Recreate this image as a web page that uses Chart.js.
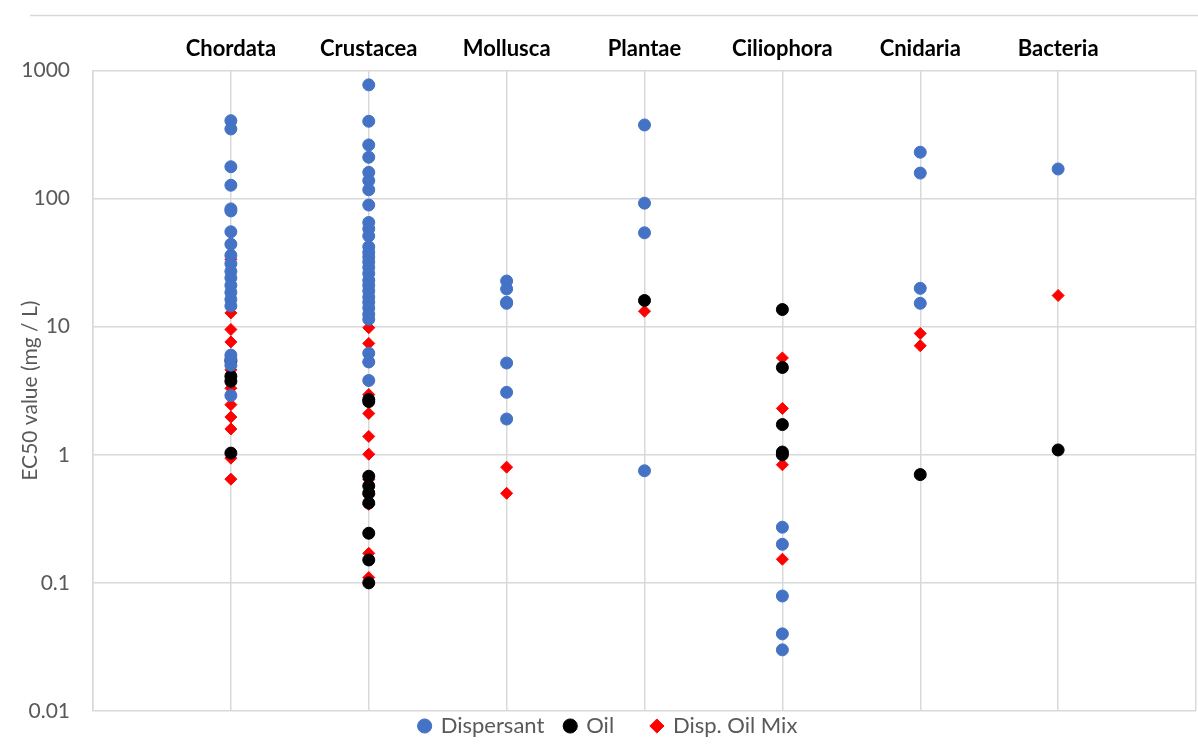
<!DOCTYPE html>
<html>
<head>
<meta charset="utf-8">
<script src="https://cdn.jsdelivr.net/npm/chart.js@4.4.1/dist/chart.umd.min.js"></script>
<style>
  html, body { margin: 0; padding: 0; background: #fff; }
  #wrap { width: 1198px; height: 754px; position: relative; }
</style>
</head>
<body>
<div id="wrap"><canvas id="myChart" width="1198" height="754"></canvas></div>
<script>
// phylum groups along the top
const categories = ['Chordata', 'Crustacea', 'Mollusca', 'Plantae', 'Ciliophora', 'Cnidaria', 'Bacteria'];
const yTicks = [0.01, 0.1, 1, 10, 100, 1000];
const yTitle = 'EC50 value (mg / L)';

// EC50 values (mg/L), one list per category
const dispersant = [
    [405, 349, 177, 127, 83, 80, 55, 44, 36, 31, 27, 24, 21, 18.5, 16.3, 14.5, 6.0, 5.6, 5.0, 2.9],
    [771, 401, 262, 210, 160, 138, 117, 89, 65, 58, 51, 42, 38, 35, 32, 29, 26, 23, 21, 19, 17, 15.5, 14, 12.5, 11.4, 6.2, 5.3, 3.8],
    [22.7, 19.7, 15.5, 15.2, 5.2, 3.07, 1.9],
    [375, 92, 54, 0.75],
    [0.272, 0.2, 0.079, 0.04, 0.03],
    [230, 158, 19.9, 15.2],
    [170]
];
const oil = [
    [5.4, 4.1, 3.75, 1.03],
    [2.7, 2.6, 0.68, 0.57, 0.5, 0.42, 0.244, 0.151, 0.1],
    [],
    [16],
    [13.6, 4.8, 1.72, 1.05, 1.0],
    [0.7],
    [1.09]
];
const mix = [
    [33.6, 12.8, 9.5, 7.6, 4.6, 3.3, 2.46, 1.97, 1.59, 0.94, 0.645],
    [9.8, 7.4, 5.3, 2.95, 2.1, 1.39, 1.01, 0.64, 0.52, 0.49, 0.41, 0.17, 0.11],
    [0.8, 0.5],
    [13.2],
    [5.7, 2.3, 1.03, 0.835, 0.153],
    [8.85, 7.1],
    [17.5]
];

function toPoints(groups) {
    const pts = [];
    groups.forEach((vals, i) => vals.forEach(v => pts.push({ x: i + 1, y: v })));
    return pts;
}

// top frame line and the rotated y title (drawn by hand so it can sit over the tick column)
const extras = {
    id: 'extras',
    beforeDraw(chart) {
        const c = chart.ctx;
        c.save();
        c.strokeStyle = '#d9d9d9';
        c.lineWidth = 1.5;
        c.beginPath();
        c.moveTo(30, 15.5);
        c.lineTo(1198, 15.5);
        c.stroke();
        c.restore();
    },
    afterDraw(chart) {
        const c = chart.ctx;
        const a = chart.chartArea;
        c.save();
        c.translate(30, (a.top + a.bottom) / 2);
        c.rotate(-Math.PI / 2);
        c.fillStyle = '#595959';
        c.font = '21px Lato, "Open Sans", sans-serif';
        c.textAlign = 'center';
        c.textBaseline = 'middle';
        c.fillText(yTitle, 0, 0);
        c.restore();
    }
};

// extra spaces to widen the gaps between legend entries
const legendGaps = ['   ', '      ', ''];

const ctx = document.getElementById('myChart').getContext('2d');
const myChart = new Chart(ctx, {
    type: 'scatter',
    data: {
        datasets: [{
            label: 'Dispersant',
            data: toPoints(dispersant),
            backgroundColor: '#4472C4',
            borderColor: '#4472C4',
            pointStyle: 'circle',
            pointRadius: 6,
            pointHoverRadius: 6
        }, {
            label: 'Oil',
            data: toPoints(oil),
            backgroundColor: '#000000',
            borderColor: '#000000',
            pointStyle: 'circle',
            pointRadius: 6,
            pointHoverRadius: 6
        }, {
            label: 'Disp. Oil Mix',
            data: toPoints(mix),
            backgroundColor: '#FF0000',
            borderColor: '#FF0000',
            pointStyle: 'rectRot',
            pointRadius: 6,
            pointHoverRadius: 6
        }]
    },
    options: {
        responsive: false,
        animation: false,
        layout: { autoPadding: false, padding: { top: 28, right: 2, left: 21, bottom: 7 } },
        plugins: {
            tooltip: { enabled: false },
            legend: {
                position: 'bottom',
                labels: {
                    usePointStyle: true,
                    boxWidth: 10,
                    boxHeight: 10,
                    padding: 4,
                    color: '#595959',
                    font: { family: 'Lato, "Open Sans", sans-serif', size: 22 },
                    generateLabels: chart => {
                        const items = Chart.defaults.plugins.legend.labels.generateLabels(chart);
                        items.forEach((it, i) => { it.text += legendGaps[i] || ''; });
                        return items;
                    }
                }
            }
        },
        scales: {
            x: {
                type: 'linear',
                position: 'top',
                min: 0,
                max: 8,
                afterBuildTicks: axis => {
                    axis.ticks = [0, 1, 2, 3, 4, 5, 6, 7, 8].map(v => ({ value: v }));
                },
                afterFit: axis => {
                    axis.paddingLeft = 0;
                    axis.paddingRight = 0;
                },
                ticks: {
                    callback: v => categories[v - 1] || '',
                    color: '#000',
                    padding: 8,
                    maxRotation: 0,
                    autoSkip: false,
                    font: { family: 'Lato, "Open Sans", sans-serif', size: 22, weight: 'bold' }
                },
                grid: { color: '#d9d9d9', lineWidth: 1.5, drawTicks: false },
                border: { display: false }
            },
            y: {
                type: 'logarithmic',
                min: 0.01,
                max: 1000,
                afterBuildTicks: axis => {
                    axis.ticks = yTicks.map(v => ({ value: v }));
                },
                afterFit: axis => {
                    axis.width = 72;
                },
                ticks: {
                    callback: v => String(v),
                    color: '#595959',
                    padding: 23,
                    font: { family: 'Lato, "Open Sans", sans-serif', size: 21 }
                },
                grid: { color: '#d9d9d9', lineWidth: 1.5, drawTicks: false },
                border: { color: '#d9d9d9', width: 1.5 }
            }
        }
    },
    plugins: [extras]
});
</script>
</body>
</html>
